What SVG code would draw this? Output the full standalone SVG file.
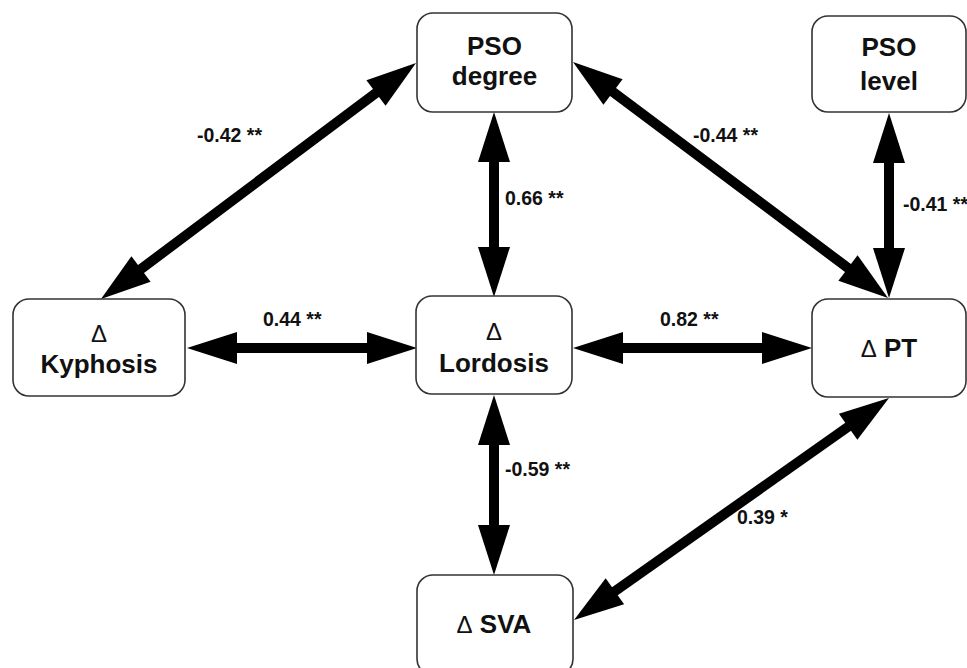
<svg xmlns="http://www.w3.org/2000/svg" width="967" height="668" viewBox="0 0 967 668">
<style>
.box{fill:#fff;stroke:#333;stroke-width:1.6}
.t{font-family:"Liberation Sans",Arial,sans-serif;font-weight:bold;font-size:26px;fill:#111;text-anchor:middle}
.d{font-weight:normal;font-size:24px}
.lab{font-family:"Liberation Sans",Arial,sans-serif;font-weight:bold;font-size:19.5px;fill:#111}
.c{stroke:#000;stroke-width:10;fill:none;marker-start:url(#ah);marker-end:url(#ah)}
</style>
<defs>
<marker id="ah" markerUnits="userSpaceOnUse" markerWidth="52" markerHeight="34" viewBox="0 0 52 34" refX="11" refY="17" orient="auto-start-reverse">
<path d="M1,1 L51,17 L1,33 Z" fill="#000"/>
</marker>
</defs>
<rect width="967" height="668" fill="#fff"/>
<g id="connectors">
<line class="c" x1="133" y1="275" x2="384" y2="87"/>
<line class="c" x1="494" y1="152" x2="494" y2="257"/>
<line class="c" x1="605" y1="86" x2="856" y2="274"/>
<line class="c" x1="889" y1="153" x2="889" y2="258"/>
<line class="c" x1="227" y1="348" x2="377" y2="348"/>
<line class="c" x1="613" y1="348" x2="772" y2="348"/>
<line class="c" x1="494" y1="435" x2="494" y2="535"/>
<line class="c" x1="606.7" y1="597" x2="856.3" y2="421"/>
</g>
<g id="labels">
<text class="lab" x="197" y="142">-0.42 **</text>
<text class="lab" x="505" y="205">0.66 **</text>
<text class="lab" x="693" y="142">-0.44 **</text>
<text class="lab" x="903" y="211">-0.41 **</text>
<text class="lab" x="263" y="326">0.44 **</text>
<text class="lab" x="660" y="326">0.82 **</text>
<text class="lab" x="505" y="476">-0.59 **</text>
<text class="lab" x="737" y="524">0.39 *</text>
</g>
<g id="pso-degree">
<rect class="box" x="417" y="13" width="155" height="99" rx="16"/>
<text class="t" x="494.5" y="55">PSO</text>
<text class="t" x="494.5" y="85">degree</text>
</g>
<g id="pso-level">
<rect class="box" x="812" y="16" width="154" height="96" rx="16"/>
<text class="t" x="889" y="56">PSO</text>
<text class="t" x="889" y="90">level</text>
</g>
<g id="kyphosis">
<rect class="box" x="13" y="299" width="172" height="97" rx="16"/>
<text class="t" x="99" y="342"><tspan class="d">Δ</tspan></text>
<text class="t" x="99" y="373">Kyphosis</text>
</g>
<g id="lordosis">
<rect class="box" x="416" y="296" width="156" height="98" rx="16"/>
<text class="t" x="494" y="340"><tspan class="d">Δ</tspan></text>
<text class="t" x="494" y="372">Lordosis</text>
</g>
<g id="pt">
<rect class="box" x="812" y="299" width="154" height="98" rx="16"/>
<text class="t" x="889" y="357"><tspan class="d">Δ</tspan> PT</text>
</g>
<g id="sva">
<rect class="box" x="417" y="575" width="156" height="100" rx="16"/>
<text class="t" x="494" y="633"><tspan class="d">Δ</tspan> SVA</text>
</g>
</svg>
